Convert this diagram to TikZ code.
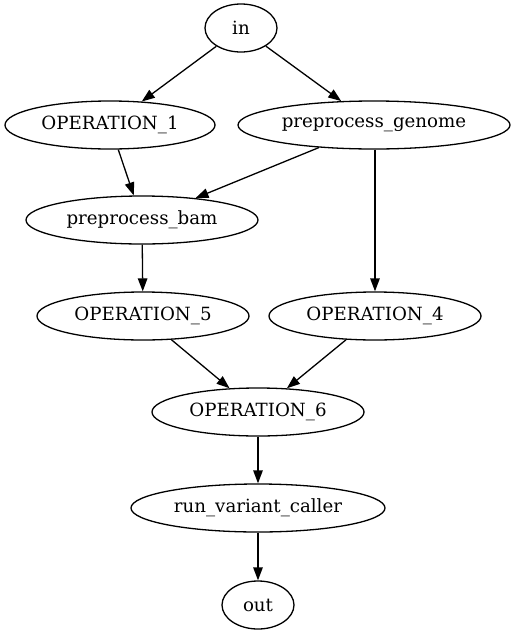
\documentclass[tikz,border=0pt]{standalone}
\usepackage{fontspec}
\setmainfont{DejaVu Serif}
\usetikzlibrary{shapes.geometric,arrows.meta}
\begin{document}
\begin{tikzpicture}[x=1pt,y=-1pt,
  op/.style={ellipse,draw,line width=1.3pt,inner sep=0pt,minimum height=48pt,
    font=\fontsize{18.2}{20}\selectfont},
  edge/.style={line width=1.3pt,-{Triangle[length=13pt,width=9.5pt]}}]
\useasboundingbox (0,0) rectangle (518,635);
\node[op,minimum width=72pt]  (in)   at (241,28)  {in};
\node[op,minimum width=210pt] (op1)  at (110,125) {OPERATION\_1};
\node[op,minimum width=272pt] (pg)   at (374,125) {preprocess\_genome};
\node[op,minimum width=232pt] (pb)   at (142,220) {preprocess\_bam};
\node[op,minimum width=212pt] (op5)  at (143,316) {OPERATION\_5};
\node[op,minimum width=212pt] (op4)  at (375,316) {OPERATION\_4};
\node[op,minimum width=212pt] (op6)  at (258,412) {OPERATION\_6};
\node[op,minimum width=254pt] (rvc)  at (258,508) {run\_variant\_caller};
\node[op,minimum width=72pt]  (out)  at (258,605) {out};
\draw[edge] (in) -- (op1);
\draw[edge] (in) -- (pg);
\draw[edge] (op1) -- (pb);
\draw[edge] (pg) -- (pb);
\draw[edge] (pb) -- (op5);
\draw[edge] (pg.south -| op4.north) -- (op4);
\draw[edge] (op5) -- (op6);
\draw[edge] (op4) -- (op6);
\draw[edge] (op6) -- (rvc);
\draw[edge] (rvc) -- (out);
\end{tikzpicture}
\end{document}
